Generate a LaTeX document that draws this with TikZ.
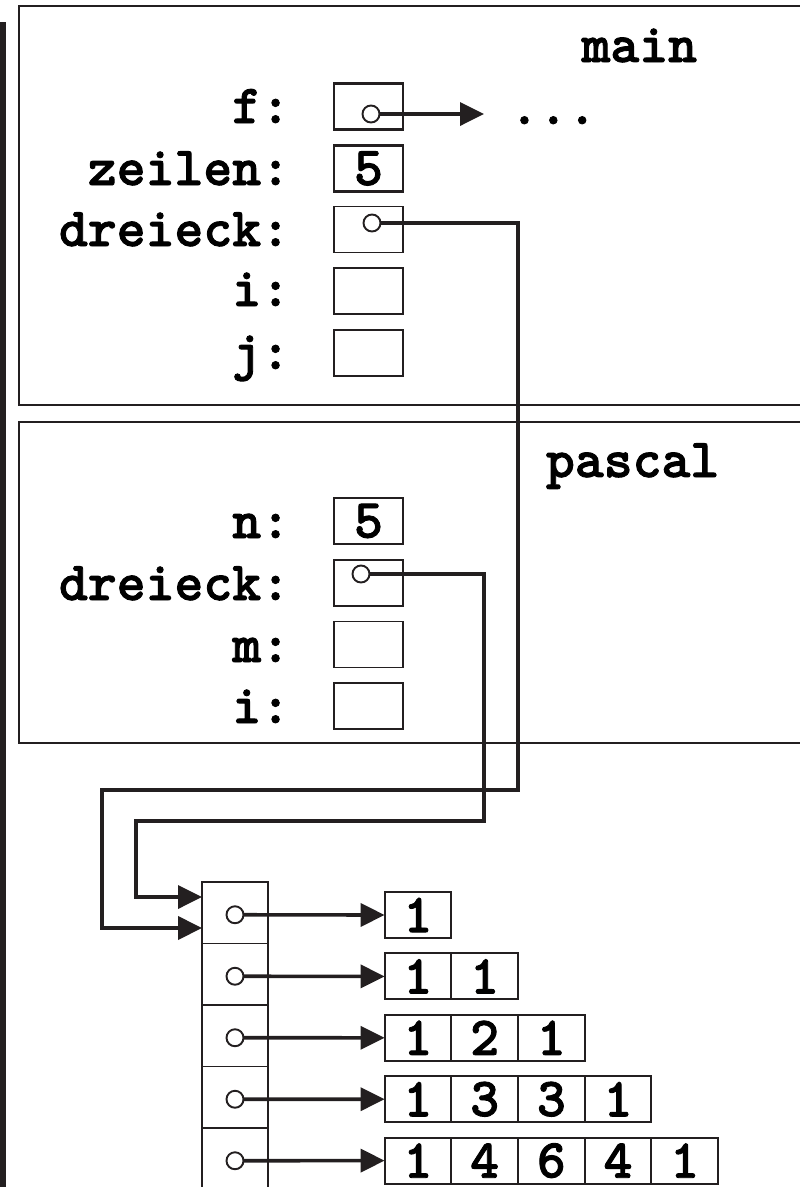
\documentclass[tikz,border=0pt]{standalone}
\usepackage{fontspec}
\usetikzlibrary{arrows.meta,calc}
\definecolor{ink}{HTML}{231F20}
\newfontfamily\codeface{lmmonolt10-bold.otf}[FakeBold=1.6]
\newcommand{\codefont}{\codeface\fontsize{55}{60}\selectfont}

\begin{document}
\begin{tikzpicture}[x=1pt,y=-1pt,
  every node/.style={inner sep=0pt,outer sep=0pt},
  varlabel/.style={anchor=base east,font=\codefont},
  frametitle/.style={font=\codefont},
  stackframe/.style={draw=ink,line width=2.4pt},
  varslot/.style={draw=ink,line width=1.9pt,minimum width=69pt,minimum height=46pt,font=\codefont},
  thickslot/.style={varslot,line width=2.7pt},
  ptr/.style={circle,draw=ink,fill=white,line width=1.9pt,minimum size=17pt},
  conn/.style={draw=ink,line width=3.6pt},
  bigtip/.style={-{Triangle[length=24pt,width=23pt]}},
  valcell/.style={draw=ink,line width=1.9pt,minimum width=66.7pt,minimum height=46pt,font=\codefont},
  colcell/.style={draw=ink,line width=1.9pt,minimum width=66pt,minimum height=61.5pt},
]
\useasboundingbox (0,0) rectangle (800,1187);

% side bar
\fill[ink] (0,22) rectangle (6,1195);

% stack frames
\draw[stackframe] (19,6) rectangle (815,405);
\draw[stackframe] (19,422) rectangle (815,743);
\node[frametitle,anchor=base east] (maintitle) at (697,62) {main};
\node[frametitle,anchor=base west] (pascaltitle) at (546,477) {pascal};

% variables of main
\node[thickslot] (mf) at (368.5,106.5) {};
\node[thickslot] (mz) at (368.5,168.5) {5};
\node[varslot] (md) at (368.5,229.5) {};
\node[varslot] (mi) at (368.5,291) {};
\node[varslot] (mj) at (368.5,353) {};
\node[varlabel] (lf) at (290,123) {f:};
\node[varlabel] (lz) at (290,185) {zeilen:};
\node[varlabel] (ld) at (290,246) {dreieck:};
\node[varlabel] (li) at (290,306) {i:};
\node[varlabel] (lj) at (290,369) {j:};

% variables of pascal
\node[thickslot] (pn) at (368.5,521) {5};
\node[varslot] (pd) at (368.5,583) {};
\node[varslot] (pm) at (368.5,644.5) {};
\node[varslot] (pi) at (368.5,706) {};
\node[varlabel] (ln) at (290,538) {n:};
\node[varlabel] (lpd) at (290,600) {dreieck:};
\node[varlabel] (lm) at (290,662) {m:};
\node[varlabel] (lpi) at (290,723) {i:};

% pointer column
\foreach \k in {1,...,5} {
  \node[colcell] (col\k) at (235,{882+61.5*(\k-0.5)}) {};
}

% rows of the triangle
\foreach \k/\vals in {1/{1},2/{1,1},3/{1,2,1},4/{1,3,3,1},5/{1,4,6,4,1}} {
  \foreach \v [count=\j] in \vals {
    \node[valcell] (r\k-\j) at ({384.6+66.7*(\j-0.5)},{915+61.4*(\k-1)}) {\v};
  }
}

% pointer origins
\node[ptr] (fc) at (371,114) {};
\node[ptr] (mdc) at (372,223) {};
\node[ptr] (pdc) at (361,574) {};
\foreach \k in {1,...,5} {
  \node[ptr] (cp\k) at ($(col\k.center)+(0,2)$) {};
}

% f points somewhere else
\node[anchor=base west,font=\codefont] (dots) at (510,124) {...};
\coordinate (fend) at (484,114);
\draw[conn,bigtip] (fc) -- (fend);

% dreieck of main
\coordinate (mA) at (518,790);
\coordinate (mB) at (102,928);
\draw[conn,line width=4.1pt,bigtip] (mdc) -| (mA) -| (mB) -- (mB -| col1.west);

% dreieck of pascal
\coordinate (pA) at (484,821);
\coordinate (pB) at (136,897);
\draw[conn,bigtip] (pdc) -| (pA) -| (pB) -- (pB -| col1.west);

% row pointers
\foreach \k in {1,...,5} {
  \draw[conn,bigtip] (cp\k) -- (r\k-1.west);
}
\end{tikzpicture}
\end{document}
